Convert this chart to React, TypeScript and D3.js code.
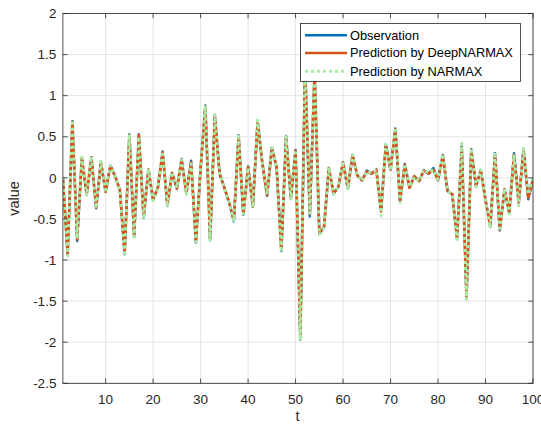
import React from "react";
import * as d3 from "d3";

const T: number[] = d3.range(1, 101);

const observation: number[] = [
  0, -0.94, 0.69, -0.77, 0.24, -0.21, 0.25, -0.37, 0.19, -0.17,
  0.15, 0.02, -0.15, -0.93, 0.53, -0.72, 0.53, -0.49, 0.1, -0.27,
  -0.12, 0.32, -0.34, 0.06, -0.13, 0.23, -0.19, 0.21, -0.79, 0.12,
  0.88, -0.76, 0.76, 0.05, -0.12, -0.3, -0.53, 0.52, -0.45, 0.14,
  -0.35, 0.69, 0.18, -0.22, 0.37, 0.13, -0.89, 0.51, -0.25, 0.34,
  -1.97, 1.38, -0.47, 1.3, -0.68, -0.6, 0.12, -0.19, -0.11, 0.19,
  -0.13, 0.28, 0.03, -0.03, 0.09, 0.05, 0.1, -0.4, 0.41, 0.1,
  0.6, -0.29, 0.17, -0.12, 0.02, -0.04, 0.09, 0.05, 0.12, -0.03,
  0.28, -0.16, -0.2, -0.74, 0.38, -1.47, 0.35, -0.1, 0.09, -0.27,
  -0.6, 0.3, -0.64, -0.14, -0.43, 0.3, -0.29, 0.35, -0.26, -0.02,
];

const deepNarmax: number[] = [
  0, -0.93, 0.68, -0.75, 0.24, -0.2, 0.25, -0.36, 0.19, -0.17,
  0.15, 0.02, -0.15, -0.92, 0.52, -0.71, 0.52, -0.48, 0.1, -0.26,
  -0.12, 0.31, -0.33, 0.06, -0.13, 0.22, -0.19, 0.19, -0.78, 0.12,
  0.87, -0.75, 0.75, 0.05, -0.12, -0.3, -0.51, 0.51, -0.44, 0.13,
  -0.35, 0.68, 0.18, -0.21, 0.36, 0.13, -0.88, 0.5, -0.25, 0.33,
  -1.96, 1.37, -0.44, 1.29, -0.67, -0.59, 0.12, -0.19, -0.11, 0.19,
  -0.13, 0.27, 0.03, -0.03, 0.08, 0.05, 0.1, -0.41, 0.4, 0.1,
  0.59, -0.28, 0.16, -0.12, 0.02, -0.04, 0.09, 0.05, 0.1, -0.03,
  0.27, -0.16, -0.2, -0.73, 0.37, -1.45, 0.34, -0.1, 0.09, -0.27,
  -0.59, 0.29, -0.63, -0.14, -0.42, 0.28, -0.3, 0.34, -0.24, -0.02,
];

const narmax: number[] = [
  0.01, -0.95, 0.7, -0.74, 0.25, -0.21, 0.26, -0.37, 0.2, -0.18,
  0.15, 0.02, -0.16, -0.95, 0.53, -0.72, 0.5, -0.5, 0.11, -0.28,
  -0.12, 0.32, -0.35, 0.07, -0.12, 0.22, -0.2, 0.17, -0.78, 0.13,
  0.88, -0.76, 0.77, 0.05, -0.12, -0.31, -0.52, 0.53, -0.44, 0.12,
  -0.36, 0.7, 0.18, -0.2, 0.37, 0.12, -0.9, 0.5, -0.26, 0.34,
  -1.98, 1.37, -0.43, 1.3, -0.69, -0.6, 0.13, -0.2, -0.1, 0.2,
  -0.13, 0.28, 0.04, -0.04, 0.08, 0.06, 0.1, -0.46, 0.41, 0.09,
  0.61, -0.3, 0.17, -0.11, 0.01, -0.04, 0.1, 0.06, 0.1, -0.02,
  0.29, -0.15, -0.21, -0.75, 0.42, -1.48, 0.36, -0.11, 0.1, -0.26,
  -0.61, 0.31, -0.65, -0.13, -0.44, 0.27, -0.34, 0.36, -0.2, 0.0,
];

const xTicks: number[] = [10, 20, 30, 40, 50, 60, 70, 80, 90, 100];
const yTicks: number[] = [-2.5, -2, -1.5, -1, -0.5, 0, 0.5, 1, 1.5, 2];
const legendLabels: string[] = ["Observation", "Prediction by DeepNARMAX", "Prediction by NARMAX"];

const W = 541;
const H = 428;
const L = 62.9;
const R = 533;
const TOP = 13.5;
const BOT = 383.3;
const AX = "#262626";
const FONT = "'Liberation Sans', Arial, Helvetica, sans-serif";

export default function App() {
  const x = d3.scaleLinear().domain([1, 100]).range([L, R]);
  const y = d3.scaleLinear().domain([-2.5, 2]).range([BOT, TOP]);
  const line = d3
    .line<number>()
    .x((_, i) => x(T[i]))
    .y((v) => y(v));
  const tl = 4.7;

  const series = [
    { data: observation, stroke: "#0072BD", width: 2.4, dash: undefined as string | undefined },
    { data: deepNarmax, stroke: "#D95319", width: 2.6, dash: undefined as string | undefined },
    { data: narmax, stroke: "#a8eba8", width: 3, dash: "3,3" },
  ];

  const lx = 300.5;
  const ly = 23.5;
  const lw = 220;
  const lh = 58;
  const rows = [35.3, 53, 71.2];

  return (
    <svg
      width={W}
      height={H}
      style={{ position: "absolute", left: 0, top: 0, background: "#fff" }}
      fontFamily={FONT}
    >
      <rect x={0} y={0} width={W} height={H} fill="#fff" />
      {xTicks.map((t) => (
        <line key={"gx" + t} x1={x(t)} x2={x(t)} y1={TOP} y2={BOT} stroke="#e4e4e4" strokeWidth={1} />
      ))}
      {yTicks.map((t) => (
        <line key={"gy" + t} x1={L} x2={R} y1={y(t)} y2={y(t)} stroke="#e4e4e4" strokeWidth={1} />
      ))}
      <defs>
        <clipPath id="clip">
          <rect x={L} y={TOP} width={R - L} height={BOT - TOP} />
        </clipPath>
      </defs>
      <g clipPath="url(#clip)">
        {series.map((s, i) => (
          <path
            key={i}
            d={line(s.data) || ""}
            fill="none"
            stroke={s.stroke}
            strokeWidth={s.width}
            strokeDasharray={s.dash}
            strokeLinejoin="round"
          />
        ))}
      </g>
      <rect x={L} y={TOP} width={R - L} height={BOT - TOP} fill="none" stroke={AX} strokeWidth={0.8} />
      {xTicks.map((t) => (
        <g key={"xt" + t}>
          <line x1={x(t)} x2={x(t)} y1={BOT} y2={BOT - tl} stroke={AX} strokeWidth={0.8} />
          <line x1={x(t)} x2={x(t)} y1={TOP} y2={TOP + tl} stroke={AX} strokeWidth={0.8} />
          <text x={x(t)} y={BOT + 21} textAnchor="middle" fontSize={13.5} fill={AX}>
            {t}
          </text>
        </g>
      ))}
      {yTicks.map((t) => (
        <g key={"yt" + t}>
          <line x1={L} x2={L + tl} y1={y(t)} y2={y(t)} stroke={AX} strokeWidth={0.8} />
          <line x1={R} x2={R - tl} y1={y(t)} y2={y(t)} stroke={AX} strokeWidth={0.8} />
          <text x={L - 6.5} y={y(t)} dy="0.35em" textAnchor="end" fontSize={13.5} fill={AX}>
            {t}
          </text>
        </g>
      ))}
      <text x={297.5} y={421} textAnchor="middle" fontSize={14.5} fill={AX}>
        t
      </text>
      <text
        transform={`translate(19,${(TOP + BOT) / 2}) rotate(-90)`}
        textAnchor="middle"
        fontSize={14.5}
        fill={AX}
      >
        value
      </text>
      <rect x={lx} y={ly} width={lw} height={lh} fill="#fff" stroke={AX} strokeWidth={0.8} />
      {legendLabels.map((lab, i) => (
        <g key={lab}>
          <line
            x1={305}
            x2={347}
            y1={rows[i]}
            y2={rows[i]}
            stroke={series[i].stroke}
            strokeWidth={series[i].width}
            strokeDasharray={series[i].dash}
          />
          <text x={350} y={rows[i]} dy="0.35em" fontSize={12.8} fill="#000">
            {lab}
          </text>
        </g>
      ))}
    </svg>
  );
}
